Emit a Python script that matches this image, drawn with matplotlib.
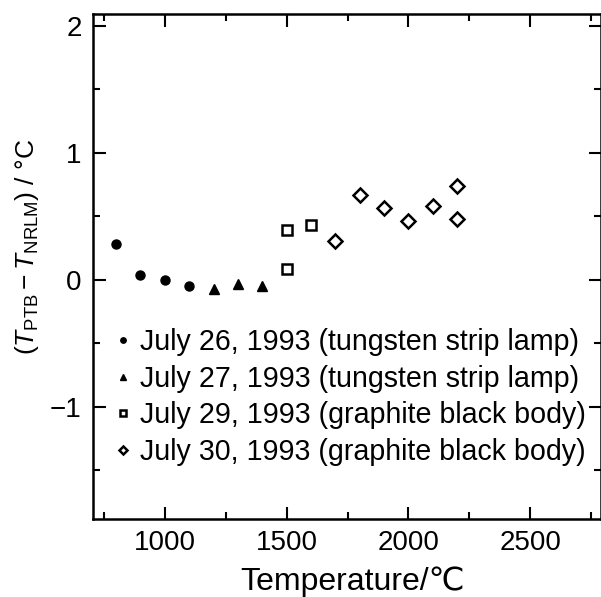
import matplotlib
matplotlib.use("Agg")
import matplotlib.pyplot as plt
from matplotlib.ticker import MultipleLocator

plt.rcParams['font.family'] = ['Liberation Sans', 'DejaVu Sans']
plt.rcParams['mathtext.fontset'] = 'custom'
plt.rcParams['mathtext.rm'] = 'Liberation Sans'
plt.rcParams['mathtext.it'] = 'Liberation Sans:italic'

# Temperature differences PTB - NRLM (°C) per measurement day
jul26_t = [800, 900, 1000, 1100]
jul26_d = [0.285, 0.035, 0.0, -0.05]

jul27_t = [1200, 1300, 1400]
jul27_d = [-0.075, -0.035, -0.05]

jul29_t = [1500, 1500, 1600]
jul29_d = [0.395, 0.088, 0.43]

jul30_t = [1700, 1800, 1900, 2000, 2100, 2200, 2200]
jul30_d = [0.305, 0.665, 0.563, 0.46, 0.58, 0.74, 0.48]

labels = [
    "July 26, 1993 (tungsten strip lamp)",
    "July 27, 1993 (tungsten strip lamp)",
    "July 29, 1993 (graphite black body)",
    "July 30, 1993 (graphite black body)",
]

fig = plt.figure(figsize=(6.01, 5.97), dpi=100)
ax = fig.add_axes([0.1547, 0.1307, 0.845, 0.8458])

ax.plot(jul26_t, jul26_d, 'o', ms=6.5, color='black', label=labels[0])
ax.plot(jul27_t, jul27_d, '^', ms=6.5, color='black', label=labels[1])
ax.plot(jul29_t, jul29_d, 's', ms=7, mfc='white', mec='black', mew=1.8, label=labels[2])
ax.plot(jul30_t, jul30_d, 'D', ms=7, mfc='white', mec='black', mew=1.8, label=labels[3])

ax.set_xlim(705, 2790)
ax.set_ylim(-1.886, 2.095)
ax.xaxis.set_major_locator(MultipleLocator(500))
ax.xaxis.set_minor_locator(MultipleLocator(250))
ax.yaxis.set_major_locator(MultipleLocator(1))
ax.yaxis.set_minor_locator(MultipleLocator(0.5))
ax.tick_params(which='both', direction='in', top=True, right=True, width=1.5, labelsize=20)
ax.tick_params(which='major', length=9, pad=8)
ax.tick_params(which='minor', length=5)
for s in ax.spines.values():
    s.set_linewidth(1.8)

ax.set_yticks([-1, 0, 1, 2])
ax.set_yticklabels(['\u22121', '0', '1', '2'])

ax.set_xlabel('Temperature/\u2103', fontsize=23)
ax.xaxis.set_label_coords(0.511, -0.093)
ax.set_ylabel(r'$(T_{\rm PTB}-T_{\rm NRLM})$ / °C', fontsize=19)
ax.yaxis.set_label_coords(-0.103, 0.539)

ax.legend(loc='upper left', bbox_to_anchor=(0.002, 0.418), frameon=False, fontsize=20.6,
          handlelength=0.6, handletextpad=0.3, labelspacing=0.3, markerscale=0.6,
          borderaxespad=0.3)

fig.savefig('out.png', dpi=100)
